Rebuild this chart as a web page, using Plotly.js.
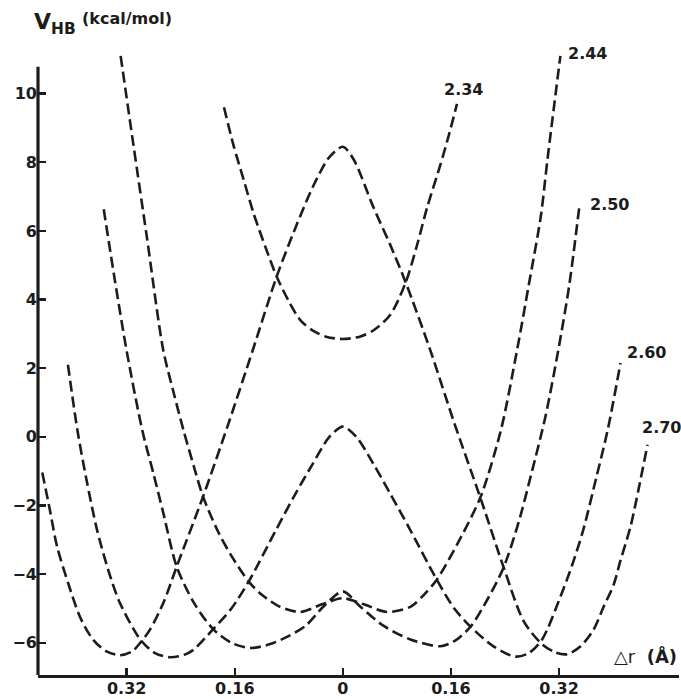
<!DOCTYPE html>
<html>
<head>
<meta charset="utf-8">
<script src="https://cdn.plot.ly/plotly-3.0.1.min.js"></script>
<style>
html,body{margin:0;padding:0;background:#fff;}
#chart{width:681px;height:699px;}
</style>
</head>
<body>
<div id="chart"></div>
<script>
// O...O distances (Å) labelling each curve
const curveLabels = ["2.34", "2.44", "2.50", "2.60", "2.70"];

// Δr (Å) and V_HB (kcal/mol)
const x234 = [-0.176, -0.162, -0.147, -0.132, -0.115, -0.098, -0.080, -0.063, -0.045, -0.025, 0, 0.025, 0.045, 0.070, 0.093, 0.110, 0.125, 0.144, 0.157, 0.169];
const y234 = [9.6, 8.5, 7.5, 6.5, 5.55, 4.67, 3.95, 3.4, 3.1, 2.92, 2.85, 2.92, 3.1, 3.55, 4.5, 5.6, 6.7, 7.9, 8.8, 9.7];

const x244 = [-0.329, -0.310, -0.290, -0.266, -0.250, -0.236, -0.220, -0.207, -0.185, -0.167, -0.140, -0.120, -0.093, -0.063, -0.030, 0, 0.030, 0.065, 0.100, 0.120, 0.139, 0.170, 0.204, 0.234, 0.258, 0.275, 0.293, 0.303, 0.322];
const y244 = [11.1, 8.5, 5.8, 2.54, 1.25, 0.2, -0.9, -1.74, -2.75, -3.4, -4.2, -4.6, -4.95, -5.1, -4.87, -4.7, -4.87, -5.1, -4.95, -4.6, -4.16, -3.1, -1.74, 0.2, 2.54, 4.4, 6.42, 8.1, 11.1];

const x250 = [-0.354, -0.337, -0.320, -0.297, -0.280, -0.266, -0.246, -0.220, -0.192, -0.165, -0.137, -0.110, -0.082, -0.055, -0.029, 0, 0.026, 0.060, 0.100, 0.144, 0.165, 0.189, 0.215, 0.238, 0.260, 0.280, 0.300, 0.319, 0.335, 0.350];
const y250 = [6.63, 4.5, 2.5, 0.2, -1.1, -2.2, -3.78, -4.85, -5.6, -6.0, -6.15, -6.05, -5.82, -5.5, -4.95, -4.5, -4.95, -5.5, -5.9, -6.1, -5.95, -5.53, -4.7, -3.8, -2.5, -1.0, 0.6, 2.54, 4.4, 6.7];

const x260 = [-0.407, -0.393, -0.379, -0.364, -0.347, -0.330, -0.300, -0.278, -0.256, -0.235, -0.221, -0.192, -0.165, -0.139, -0.100, -0.070, -0.045, -0.020, 0, 0.020, 0.045, 0.070, 0.100, 0.139, 0.165, 0.189, 0.223, 0.255, 0.275, 0.295, 0.322, 0.340, 0.356, 0.375, 0.392, 0.411];
const y260 = [2.1, 0.2, -1.3, -2.7, -3.9, -4.84, -5.9, -6.3, -6.42, -6.35, -6.2, -5.6, -5.0, -4.2, -2.75, -1.65, -0.8, 0.0, 0.3, 0.0, -0.78, -1.65, -2.72, -4.16, -5.0, -5.53, -6.1, -6.4, -6.3, -5.9, -4.66, -3.7, -2.7, -1.2, 0.2, 2.15];

const x270 = [-0.445, -0.434, -0.423, -0.406, -0.389, -0.370, -0.350, -0.330, -0.312, -0.300, -0.285, -0.265, -0.246, -0.207, -0.170, -0.133, -0.098, -0.070, -0.044, -0.020, 0, 0.016, 0.045, 0.070, 0.093, 0.129, 0.165, 0.204, 0.238, 0.268, 0.295, 0.315, 0.332, 0.352, 0.371, 0.386, 0.401, 0.411, 0.426, 0.438, 0.451];
const y270 = [-1.04, -2.1, -3.2, -4.3, -5.25, -5.9, -6.25, -6.36, -6.25, -6.0, -5.6, -4.8, -3.78, -1.74, 0.35, 2.55, 4.67, 6.1, 7.3, 8.15, 8.45, 8.08, 6.7, 5.6, 4.5, 2.55, 0.4, -1.8, -3.8, -5.38, -6.04, -6.28, -6.33, -6.1, -5.62, -4.95, -4.3, -3.6, -2.6, -1.5, -0.23];

// axis tick values and their printed labels (|Δr| printed on both sides)
const xTickVals = [-0.32, -0.16, 0, 0.16, 0.32];
const xTickText = ["0.32", "0.16", "0", "0.16", "0.32"];
const yTickVals = [-6, -4, -2, 0, 2, 4, 6, 8, 10];

const xs = [x234, x244, x250, x260, x270];
const ys = [y234, y244, y250, y260, y270];

// pixel offsets of each label from the end of its curve
const labelShift = [[6, 14], [27, 2], [30, 2], [26, 11], [14, 17]];

const ink = '#1c1c1c';
const fontFam = 'DejaVu Sans, Liberation Sans, Arial, sans-serif';

const traces = xs.map((x, i) => ({
  x: x, y: ys[i], type: 'scatter', mode: 'lines',
  line: {color: ink, width: 2.6, dash: '11px,5px', shape: 'spline', smoothing: 0.8},
  hoverinfo: 'skip', showlegend: false, name: curveLabels[i]
}));

const annotations = curveLabels.map((lab, i) => ({
  x: xs[i][xs[i].length - 1], y: ys[i][ys[i].length - 1], xref: 'x', yref: 'y',
  text: lab, showarrow: false, xanchor: 'center', yanchor: 'middle',
  xshift: labelShift[i][0], yshift: labelShift[i][1],
  font: {family: fontFam, size: 16, color: ink, weight: 'bold'}
}));

annotations.push({
  xref: 'paper', yref: 'paper', x: -0.009, y: 1.036, xanchor: 'left', yanchor: 'middle',
  text: 'V<sub>HB</sub>', showarrow: false,
  font: {family: fontFam, size: 22, color: ink, weight: 'bold'}
});
annotations.push({
  xref: 'paper', yref: 'paper', x: 0.066, y: 1.044, xanchor: 'left', yanchor: 'middle',
  text: '(kcal/mol)', showarrow: false,
  font: {family: fontFam, size: 16, color: ink, weight: 'bold'}
});
annotations.push({
  xref: 'paper', yref: 'paper', x: 0.9485, y: 0.031, xanchor: 'center', yanchor: 'middle',
  text: '△r  <b>(Å)</b>', showarrow: false,
  font: {family: fontFam, size: 18, color: ink}
});

const layout = {
  width: 681, height: 699,
  margin: {l: 38, r: 2, t: 46, b: 24, pad: 0},
  paper_bgcolor: '#ffffff', plot_bgcolor: '#ffffff',
  showlegend: false,
  xaxis: {
    range: [-0.4513, 0.4976], showgrid: false, zeroline: false,
    showline: true, linecolor: ink, linewidth: 3,
    ticks: 'inside', ticklen: 7, tickwidth: 2.5, tickcolor: ink,
    tickvals: xTickVals, ticktext: xTickText,
    tickfont: {family: fontFam, size: 16, color: ink, weight: 'bold'},
    ticklabelstandoff: -3,
    automargin: false, fixedrange: true
  },
  yaxis: {
    range: [-6.936, 11.386], showgrid: false, zeroline: false,
    showline: false,
    ticks: 'inside', ticklen: 8, tickwidth: 2.5, tickcolor: ink,
    tickvals: yTickVals,
    tickfont: {family: fontFam, size: 16, color: ink, weight: 'bold'},
    automargin: false, fixedrange: true
  },
  shapes: [{
    type: 'line', xref: 'paper', yref: 'y', x0: 0, x1: 0, y0: -6.936, y1: 10.78,
    line: {color: ink, width: 3.2}
  }],
  annotations: annotations
};

Plotly.newPlot('chart', traces, layout, {displayModeBar: false, staticPlot: true});
</script>
</body>
</html>
